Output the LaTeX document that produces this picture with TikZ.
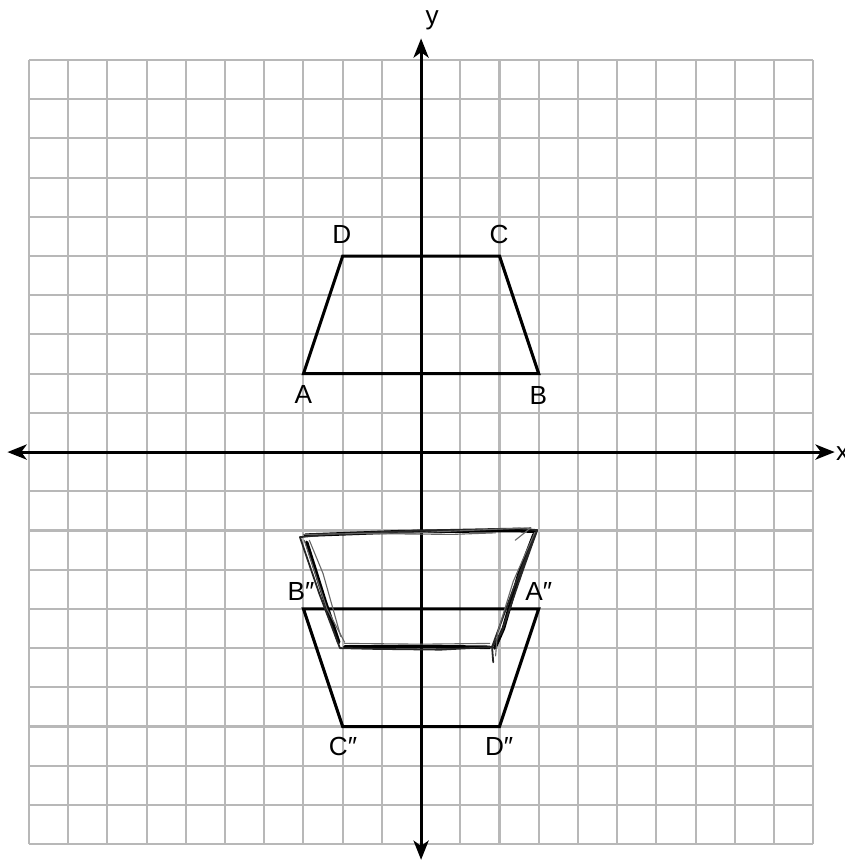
\documentclass[tikz,border=0pt]{standalone}
\usepackage{fontspec}
\setmainfont{Liberation Sans}
\usetikzlibrary{arrows.meta}
\begin{document}
\begin{tikzpicture}[x=1cm,y=1cm,
  gridline/.style={draw=black!28, line width=1.5pt},
  axis/.style={line width=2.2pt, -{Stealth[length=14pt,width=11pt,inset=4pt]}},
  trap/.style={line width=2.2pt, line join=miter},
  lbl/.style={font=\fontsize{19}{22}\selectfont, inner sep=0pt},
  sketch/.style={line width=2.6pt, black, line join=round, line cap=round},
  sketchmid/.style={line width=1.3pt, black!85, line join=round, line cap=round},
  sketchthin/.style={line width=0.8pt, black!60, line join=round, line cap=round}]
\useasboundingbox (-10.74,-10.43) rectangle (10.79,11.53);
\draw[gridline] (-10,-10) grid (10,10);
% axes
\coordinate (O) at (0,0);
\coordinate (xl) at (-10.55,0);
\coordinate (xr) at (10.55,0);
\coordinate (yb) at (0,-10.4);
\coordinate (yt) at (0,10.55);
\draw[axis] (O) -- (xr);
\draw[axis] (O) -- (xl);
\draw[axis] (O) -- (yt);
\draw[axis] (O) -- (yb);
\node[lbl] (ylab) at (0.28,11.0) {y};
\node[lbl, anchor=west] (xlab) at (10.58,-0.05) {x};
% ABCD
\coordinate (A) at (-3,2);
\coordinate (B) at (3,2);
\coordinate (C) at (2,5);
\coordinate (D) at (-2,5);
\draw[trap] (A) -- (B) -- (C) -- (D) -- cycle;
\node[lbl] (lA) at (-3.0,1.47) {A};
\node[lbl] (lB) at (2.99,1.45) {B};
\node[lbl] (lC) at (1.99,5.54) {C};
\node[lbl] (lD) at (-2.02,5.54) {D};
% A''B''C''D''
\coordinate (A2) at (3,-4);
\coordinate (B2) at (-3,-4);
\coordinate (C2) at (-2,-7);
\coordinate (D2) at (2,-7);
\draw[trap] (A2) -- (B2) -- (C2) -- (D2) -- cycle;
\node[lbl] (lB2) at (-3.06,-3.55) {B″};
\node[lbl] (lA2) at (3.0,-3.55) {A″};
\node[lbl] (lC2) at (-1.99,-7.52) {C″};
\node[lbl] (lD2) at (1.99,-7.52) {D″};
% hand-drawn sketch
\coordinate (s1) at (-3.09,-2.17);
\coordinate (s2) at (2.96,-1.99);
\coordinate (s3) at (1.81,-4.97);
\coordinate (s4) at (-2.07,-5.0);
\coordinate (s5) at (1.84,-5.36);
\draw[sketch] (-2.95,-2.12) -- (-0.5,-2.03) -- (2.4,-2.0) -- (2.9,-2.02);
\draw[sketch] (-2.92,-2.3) -- (-2.45,-3.8) -- (-2.1,-4.85);
\draw[sketch] (2.88,-2.1) -- (2.5,-3.1) -- (2.1,-4.5) -- (1.88,-5.0);
\draw[sketch] (-1.95,-4.97) -- (0,-4.96) -- (1.75,-4.98);
\draw[sketchmid] (s1) -- (-2.4,-2.1) -- (0,-2.0) -- (2.5,-1.95) -- (s2) -- (2.6,-3.0) -- (2.05,-4.6) -- (s3) -- (s5);
\draw[sketchmid] (s2) -- (2.35,-3.5) -- (s3) -- (0.5,-5.04) -- (-1.2,-5.02) -- (s4) -- (-2.6,-3.6) -- (s1);
\draw[sketchthin] (-3.0,-2.1) -- (-0.2,-2.06) -- (2.8,-1.93) -- (2.4,-2.25);
\draw[sketchthin] (-2.98,-2.25) -- (-2.4,-4.0) -- (-1.95,-4.85);
\draw[sketchthin] (2.9,-2.05) -- (2.35,-3.3) -- (1.95,-4.6) -- (1.9,-5.2);
\draw[sketchthin] (-1.95,-4.88) -- (0,-4.9) -- (1.75,-4.88);
\draw[sketchthin] (-2.85,-2.25) -- (-2.5,-3.1) -- (-2.05,-4.7);
\draw[sketchthin] (-1.3,-2.08) -- (0.8,-2.1) -- (1.9,-2.06);
\end{tikzpicture}
\end{document}
